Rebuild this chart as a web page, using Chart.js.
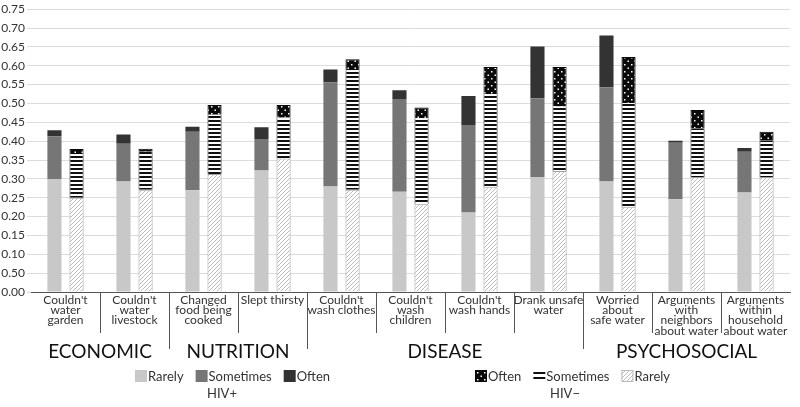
<!DOCTYPE html>
<html>
<head>
<meta charset="utf-8">
<script src="https://cdn.jsdelivr.net/npm/chart.js@4"></script>
<style>
  html, body { margin: 0; padding: 0; background: #fff; }
  #wrap { width: 800px; height: 407px; }
</style>
</head>
<body>
<div id="wrap"><canvas id="myChart" width="800" height="407"></canvas></div>
<script>
// categories (multi-line labels)
var categories = [
  ["Couldn't", "water", "garden"],
  ["Couldn't", "water", "livestock"],
  ["Changed", "food being", "cooked"],
  ["Slept thirsty"],
  ["Couldn't", "wash clothes"],
  ["Couldn't", "wash", "children"],
  ["Couldn't", "wash hands"],
  ["Drank unsafe", "water"],
  ["Worried", "about", "safe water"],
  ["Arguments", "with", "neighbors", "about water"],
  ["Arguments", "within", "household", "about water"]
];
var groups = ["ECONOMIC", "NUTRITION", "DISEASE", "PSYCHOSOCIAL"];
var groupStart = [0, 2, 4, 8];
var groupEnd = [1, 3, 7, 10];

// HIV+ segments
var posRarely    = [0.300, 0.293, 0.270, 0.322, 0.280, 0.266, 0.211, 0.305, 0.293, 0.246, 0.264];
var posSometimes = [0.113, 0.100, 0.155, 0.084, 0.276, 0.246, 0.232, 0.209, 0.250, 0.150, 0.108];
var posOften     = [0.016, 0.025, 0.013, 0.031, 0.034, 0.023, 0.077, 0.137, 0.137, 0.005, 0.010];

// HIV- segments
var negRarely    = [0.250, 0.271, 0.313, 0.354, 0.271, 0.233, 0.278, 0.321, 0.226, 0.305, 0.305];
var negSometimes = [0.115, 0.101, 0.157, 0.109, 0.317, 0.228, 0.247, 0.171, 0.275, 0.129, 0.096];
var negOften     = [0.014, 0.008, 0.026, 0.033, 0.029, 0.028, 0.072, 0.105, 0.122, 0.049, 0.024];

// y tick labels (as printed, including the 0.50 at 0.05)
var yTickLabels = ["0.00", "0.50", "0.10", "0.15", "0.20", "0.25", "0.30", "0.35",
                   "0.40", "0.45", "0.50", "0.55", "0.60", "0.65", "0.70", "0.75"];

var FONT = "Lato, 'Open Sans', sans-serif";

function makePattern(kind) {
  var c = document.createElement('canvas');
  var x = c.getContext('2d');
  if (kind === 'stripes') {
    c.width = 4; c.height = 4;
    x.fillStyle = '#fff'; x.fillRect(0, 0, 4, 4);
    x.fillStyle = '#111'; x.fillRect(0, 0, 4, 2);
  } else if (kind === 'dots') {
    c.width = 7; c.height = 7;
    x.fillStyle = '#0a0a0a'; x.fillRect(0, 0, 7, 7);
    x.fillStyle = '#fff';
    x.fillRect(1, 1, 1.5, 1.5);
    x.fillRect(4.5, 4.5, 1.5, 1.5);
  } else {
    c.width = 4; c.height = 4;
    x.fillStyle = '#fff'; x.fillRect(0, 0, 4, 4);
    x.strokeStyle = '#aaa'; x.lineWidth = 0.8;
    x.beginPath();
    x.moveTo(0, 4); x.lineTo(4, 0);
    x.moveTo(-1, 1); x.lineTo(1, -1);
    x.moveTo(3, 5); x.lineTo(5, 3);
    x.stroke();
  }
  return x.createPattern(c, 'repeat');
}

var ctx = document.getElementById("myChart");
var hatch = makePattern('hatch');
var stripes = makePattern('stripes');
var dots = makePattern('dots');

var legendPos = [
  { x: 135, items: [["Rarely", "#c8c8c8"], ["Sometimes", "#767676"], ["Often", "#333333"]], title: "HIV+", tx: 222 },
  { x: 475, items: [["Often", dots], ["Sometimes", "eq"], ["Rarely", hatch]], title: "HIV\u2212", tx: 565 }
];

var extras = {
  id: 'extras',
  afterDraw: function(chart) {
    var c = chart.ctx;
    var xs = chart.scales.x;
    var bottom = chart.chartArea.bottom;
    var step = xs.width / categories.length;
    c.save();
    // dividers under the axis
    c.strokeStyle = '#555';
    c.lineWidth = 1;
    for (var i = 0; i < categories.length - 1; i++) {
      var px = Math.round((xs.getPixelForValue(i) + xs.getPixelForValue(i + 1)) / 2) + 0.5;
      var long = groupEnd.indexOf(i) >= 0;
      c.beginPath();
      c.moveTo(px, bottom);
      c.lineTo(px, long ? 349 : 333);
      c.stroke();
    }
    // group titles
    c.fillStyle = '#111';
    c.font = '19px ' + FONT;
    c.textAlign = 'center';
    c.textBaseline = 'middle';
    for (var g = 0; g < groups.length; g++) {
      var l = xs.getPixelForValue(groupStart[g]) - step / 2;
      var r = xs.getPixelForValue(groupEnd[g]) + step / 2;
      c.fillText(groups[g], (l + r) / 2, 352);
    }
    // legends
    c.font = '13px ' + FONT;
    c.textAlign = 'left';
    legendPos.forEach(function(lg) {
      var x = lg.x;
      lg.items.forEach(function(it) {
        if (it[1] === 'eq') {
          c.fillStyle = '#111';
          c.fillRect(x, 372, 12, 2);
          c.fillRect(x, 377, 12, 2);
        } else {
          c.fillStyle = it[1];
          c.fillRect(x, 370, 12, 12);
          if (it[1] === hatch) { c.strokeStyle = '#bbb'; c.strokeRect(x + 0.5, 370.5, 11, 11); }
        }
        c.fillStyle = '#333';
        c.fillText(it[0], x + 13, 377);
        x += 13 + c.measureText(it[0]).width + 12;
      });
      c.textAlign = 'center';
      c.fillText(lg.title, lg.tx, 394);
      c.textAlign = 'left';
    });
    c.restore();
  }
};

new Chart(ctx, {
  type: 'bar',
  data: {
    labels: categories,
    datasets: [
      { label: 'Rarely', stack: 'pos', data: posRarely, backgroundColor: '#c8c8c8' },
      { label: 'Sometimes', stack: 'pos', data: posSometimes, backgroundColor: '#767676' },
      { label: 'Often', stack: 'pos', data: posOften, backgroundColor: '#333333' },
      { label: 'Rarely', stack: 'neg', data: negRarely, backgroundColor: hatch, borderColor: '#a0a0a0', borderWidth: 1 },
      { label: 'Sometimes', stack: 'neg', data: negSometimes, backgroundColor: stripes, borderColor: '#222', borderWidth: { left: 1, right: 1 } },
      { label: 'Often', stack: 'neg', data: negOften, backgroundColor: dots, borderColor: '#0a0a0a', borderWidth: 1 }
    ]
  },
  options: {
    responsive: false,
    animation: false,
    categoryPercentage: 0.64,
    barPercentage: 0.64,
    layout: { padding: { top: 6, right: 10, left: 0, bottom: 0 } },
    plugins: {
      legend: { display: false },
      tooltip: { enabled: false }
    },
    scales: {
      x: {
        stacked: true,
        grid: { display: false, drawTicks: false },
        border: { display: true, color: '#555' },
        ticks: {
          color: '#333',
          font: { family: FONT, size: 12, lineHeight: 0.85 },
          maxRotation: 0,
          autoSkip: false,
          padding: 3
        },
        afterFit: function(scale) { scale.height = 115; }
      },
      y: {
        stacked: true,
        min: 0,
        max: 0.75,
        grid: { color: '#dcdcdc', tickLength: 4 },
        border: { display: false },
        ticks: {
          stepSize: 0.05,
          color: '#333',
          font: { family: FONT, size: 12 },
          padding: 2,
          callback: function(v, i) { return yTickLabels[i]; }
        },
        afterFit: function(scale) { scale.width = 31; }
      }
    }
  },
  plugins: [extras]
});
</script>
</body>
</html>
